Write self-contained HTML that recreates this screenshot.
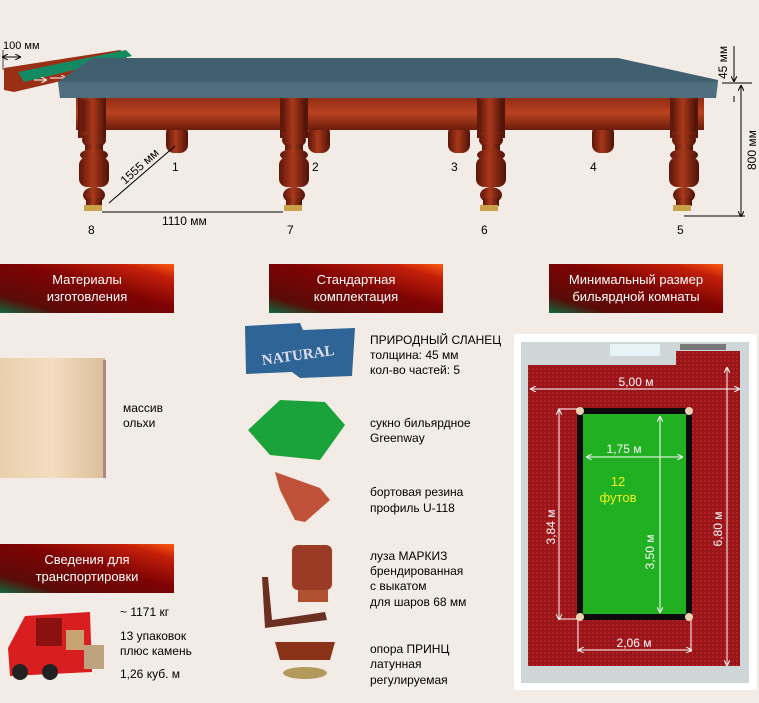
<!DOCTYPE html>
<html><head><meta charset="utf-8"><style>
html,body{margin:0;padding:0;background:#f3ebe6;}
svg{display:block;font-family:"Liberation Sans",sans-serif;}
</style></head><body>
<svg width="759" height="703" viewBox="0 0 759 703" xmlns="http://www.w3.org/2000/svg">
<defs>
<linearGradient id="hd" x1="0" y1="1" x2="1" y2="0">
<stop offset="0" stop-color="#0d6a3e"/><stop offset="0.18" stop-color="#5a0b08"/><stop offset="0.55" stop-color="#7e0303"/><stop offset="0.85" stop-color="#c4200a"/><stop offset="1" stop-color="#ff5a10"/></linearGradient>
<linearGradient id="wood" x1="0" y1="0" x2="0" y2="1"><stop offset="0" stop-color="#8e2a12"/><stop offset="0.5" stop-color="#b84220"/><stop offset="1" stop-color="#6b1c0b"/></linearGradient>
<linearGradient id="leg" x1="0" y1="0" x2="1" y2="0"><stop offset="0" stop-color="#5c160a"/><stop offset="0.45" stop-color="#a9391b"/><stop offset="1" stop-color="#4e1208"/></linearGradient>
<linearGradient id="maple" x1="0" y1="0" x2="1" y2="0"><stop offset="0" stop-color="#e9cfae"/><stop offset="0.5" stop-color="#f3dcc0"/><stop offset="1" stop-color="#dcbd98"/></linearGradient>
<pattern id="carpet" width="4" height="4" patternUnits="userSpaceOnUse"><rect width="4" height="4" fill="#98161a"/><rect width="2" height="2" fill="#b32024"/></pattern>
<marker id="a" markerWidth="6" markerHeight="6" refX="5" refY="3" orient="auto-start-reverse"><path d="M0,0 L6,3 L0,6" fill="none" stroke="#fff" stroke-width="1"/></marker>
<marker id="k" markerWidth="6" markerHeight="6" refX="5" refY="3" orient="auto-start-reverse"><path d="M0,0 L6,3 L0,6" fill="none" stroke="#000" stroke-width="1"/></marker>
<g id="lg">
<rect x="-12" y="0" width="24" height="32" rx="3"/>
<ellipse cx="0" cy="40" rx="12" ry="8"/>
<rect x="-9" y="44" width="18" height="8"/>
<ellipse cx="0" cy="55" rx="14" ry="6"/>
<rect x="-15" y="57" width="30" height="30" rx="8"/>
<ellipse cx="0" cy="95" rx="11" ry="8"/>
<rect x="-8" y="98" width="16" height="8"/>
</g>
</defs>

<!-- rail profile -->
<path d="M4,68 L120,50 L127,54 L125,66 L14,92 L4,90 Z" fill="#9b2f16"/>
<path d="M18,72 L126,50 L132,56 L24,82 Z" fill="#138a62"/>
<line x1="3" y1="57" x2="20" y2="57" stroke="#000" marker-start="url(#k)" marker-end="url(#k)"/>
<line x1="3" y1="50" x2="3" y2="70" stroke="#000" stroke-width="0.7"/>
<text x="3" y="49" font-size="11">100 мм</text>
<line x1="50" y1="78" x2="66" y2="78" stroke="#fff" marker-end="url(#a)"/>
<line x1="34" y1="80" x2="46" y2="80" stroke="#fff" marker-end="url(#a)"/>
<line x1="80" y1="72" x2="94" y2="72" stroke="#fff" marker-end="url(#a)"/>
<line x1="104" y1="67" x2="120" y2="67" stroke="#fff" marker-end="url(#a)"/>

<!-- rear legs -->
<g fill="url(#leg)">
<rect x="166" y="125" width="22" height="28" rx="8"/><rect x="308" y="125" width="22" height="28" rx="8"/>
<rect x="448" y="125" width="22" height="28" rx="8"/><rect x="592" y="125" width="22" height="28" rx="8"/>
</g>
<!-- apron -->
<rect x="76" y="96" width="628" height="34" fill="url(#wood)"/>
<!-- slab -->
<path d="M92,58 L618,58 L718,80 L716,96 L66,96 L58,82 Z" fill="#40606f"/>
<path d="M58,82 L718,82 L716,98 L60,98 Z" fill="#4e6e7e"/>
<!-- front legs -->
<g fill="url(#leg)">
<rect x="78" y="98" width="28" height="40"/>
<rect x="280" y="98" width="28" height="40"/>
<rect x="477" y="98" width="28" height="40"/>
<rect x="670" y="98" width="28" height="40"/>
<use href="#lg" x="94" y="100"/>
<use href="#lg" x="294" y="100"/>
<use href="#lg" x="491" y="100"/>
<use href="#lg" x="684" y="100"/>
</g>
<g fill="#c9a24a"><rect x="84" y="205" width="18" height="6"/><rect x="284" y="205" width="18" height="6"/><rect x="480" y="205" width="18" height="6"/><rect x="673" y="205" width="18" height="6"/></g>
<!-- dims -->
<line x1="109" y1="203" x2="175" y2="146" stroke="#000"/>
<line x1="102" y1="212" x2="283" y2="212" stroke="#000"/>
<text x="0" y="0" font-size="12" transform="translate(125,185) rotate(-42)">1555 мм</text>
<text x="162" y="225" font-size="12">1110 мм</text>
<g font-size="12"><text x="172" y="171">1</text><text x="312" y="171">2</text><text x="451" y="171">3</text><text x="590" y="171">4</text>
<text x="88" y="234">8</text><text x="287" y="234">7</text><text x="481" y="234">6</text><text x="677" y="234">5</text></g>
<line x1="734" y1="46" x2="734" y2="81" stroke="#000" marker-end="url(#k)"/>
<line x1="722" y1="83" x2="752" y2="83" stroke="#000"/>
<line x1="734" y1="96" x2="734" y2="102" stroke="#000"/>
<line x1="741" y1="86" x2="741" y2="216" stroke="#000" marker-start="url(#k)" marker-end="url(#k)"/>
<line x1="684" y1="216" x2="745" y2="216" stroke="#000"/>
<text font-size="12" transform="translate(727,79) rotate(-90)">45 мм</text>
<text font-size="12" transform="translate(756,170) rotate(-90)">800 мм</text>

<!-- headers -->
<g font-size="13" fill="#fff" text-anchor="middle">
<rect x="0" y="264" width="174" height="49" fill="url(#hd)"/><text x="87" y="284">Материалы</text><text x="87" y="301">изготовления</text>
<rect x="269" y="264" width="174" height="49" fill="url(#hd)"/><text x="356" y="284">Стандартная</text><text x="356" y="301">комплектация</text>
<rect x="549" y="264" width="174" height="49" fill="url(#hd)"/><text x="636" y="284">Минимальный размер</text><text x="636" y="301">бильярдной комнаты</text>
<rect x="0" y="544" width="174" height="49" fill="url(#hd)"/><text x="87" y="564">Сведения для</text><text x="87" y="581">транспортировки</text>
</g>

<!-- wood sample -->
<rect x="0" y="358" width="105" height="120" fill="url(#maple)"/>
<rect x="103" y="360" width="3" height="118" fill="#a88"/>
<text x="123" y="412" font-size="12">массив</text><text x="123" y="427" font-size="12">ольхи</text>

<!-- truck -->
<path d="M25,616 L90,612 L92,672 L10,676 L8,648 Z" fill="#d81e1e"/>
<rect x="36" y="618" width="26" height="28" fill="#8b1010"/>
<rect x="66" y="630" width="18" height="20" fill="#c7a374"/>
<circle cx="20" cy="672" r="8" fill="#222"/><circle cx="50" cy="672" r="8" fill="#222"/>
<rect x="84" y="645" width="20" height="24" fill="#bfa27e"/>
<g font-size="12"><text x="120" y="616">~ 1171 кг</text><text x="120" y="640">13 упаковок</text><text x="120" y="655">плюс камень</text><text x="120" y="678">1,26 куб. м</text></g>

<!-- equipment -->
<path d="M245,326 L300,323 L303,330 L355,328 L352,376 L300,378 L292,372 L246,374 Z" fill="#2f6596"/>
<text x="298" y="360" font-size="15" font-family="Liberation Serif" font-weight="bold" fill="#dde" text-anchor="middle" transform="rotate(-8 298 355)">NATURAL</text>
<g font-size="12">
<text x="370" y="344">ПРИРОДНЫЙ СЛАНЕЦ</text><text x="370" y="359">толщина: 45 мм</text><text x="370" y="374">кол-во частей: 5</text>
<text x="370" y="427">сукно бильярдное</text><text x="370" y="442">Greenway</text>
<text x="370" y="496">бортовая резина</text><text x="370" y="512">профиль U-118</text>
<text x="370" y="560">луза МАРКИЗ</text><text x="370" y="575">брендированная</text><text x="370" y="590">с выкатом</text><text x="370" y="606">для шаров 68 мм</text>
<text x="370" y="653">опора ПРИНЦ</text><text x="370" y="668">латунная</text><text x="370" y="684">регулируемая</text>
</g>
<path d="M248,430 L280,400 L325,402 L345,425 L320,460 L270,455 Z" fill="#1aa33a"/>
<path d="M275,472 L320,488 L330,500 L305,522 L295,520 L280,490 Z" fill="#c0523a"/>
<rect x="292" y="545" width="40" height="45" rx="6" fill="#9b3a25"/>
<rect x="298" y="590" width="30" height="12" fill="#b05030"/>
<path d="M262,577 L268,577 L272,620 L325,612 L327,620 L265,628 Z" fill="#6a3020"/>
<path d="M275,642 L335,642 L330,660 L280,660 Z" fill="#8a3318"/>
<ellipse cx="305" cy="673" rx="22" ry="6" fill="#b29a5a"/>

<!-- room -->
<rect x="514" y="334" width="243" height="356" fill="#fff"/>
<rect x="521" y="342" width="228" height="341" fill="#cfd6d8"/>
<path d="M528,365 L676,365 L676,351 L740,351 L740,666 L528,666 Z" fill="url(#carpet)"/>
<rect x="610" y="344" width="50" height="12" fill="#e6f3f7"/>
<rect x="680" y="344" width="46" height="6" fill="#777"/>
<rect x="577" y="408" width="115" height="212" fill="#0c0c0c"/>
<rect x="583" y="414" width="103" height="200" fill="#21b022"/>
<g fill="#e9d3b0"><circle cx="580" cy="411" r="4"/><circle cx="689" cy="411" r="4"/><circle cx="580" cy="617" r="4"/><circle cx="689" cy="617" r="4"/></g>
<g stroke="#fff" stroke-width="1" fill="none">
<line x1="531" y1="389" x2="739" y2="389" marker-start="url(#a)" marker-end="url(#a)"/>
<line x1="727" y1="368" x2="727" y2="665" marker-start="url(#a)" marker-end="url(#a)"/>
<line x1="559" y1="410" x2="559" y2="619" marker-start="url(#a)" marker-end="url(#a)"/>
<line x1="558" y1="409" x2="578" y2="409"/><line x1="558" y1="619" x2="578" y2="619"/>
<line x1="587" y1="457" x2="682" y2="457" marker-start="url(#a)" marker-end="url(#a)"/>
<line x1="660" y1="417" x2="660" y2="612" marker-start="url(#a)" marker-end="url(#a)"/>
<line x1="579" y1="650" x2="691" y2="650" marker-start="url(#a)" marker-end="url(#a)"/>
<line x1="578" y1="620" x2="578" y2="652"/><line x1="691" y1="620" x2="691" y2="652"/>
</g>
<g font-size="12" fill="#fff">
<text x="636" y="386" text-anchor="middle">5,00 м</text>
<text x="624" y="453" text-anchor="middle">1,75 м</text>
<text x="634" y="647" text-anchor="middle">2,06 м</text>
<text transform="translate(555,527) rotate(-90)" text-anchor="middle">3,84 м</text>
<text transform="translate(654,552) rotate(-90)" text-anchor="middle">3,50 м</text>
<text transform="translate(722,529) rotate(-90)" text-anchor="middle">6,80 м</text>
</g>
<g font-size="13" fill="#f0f020" text-anchor="middle"><text x="618" y="486">12</text><text x="618" y="502">футов</text></g>
</svg>
</body></html>
